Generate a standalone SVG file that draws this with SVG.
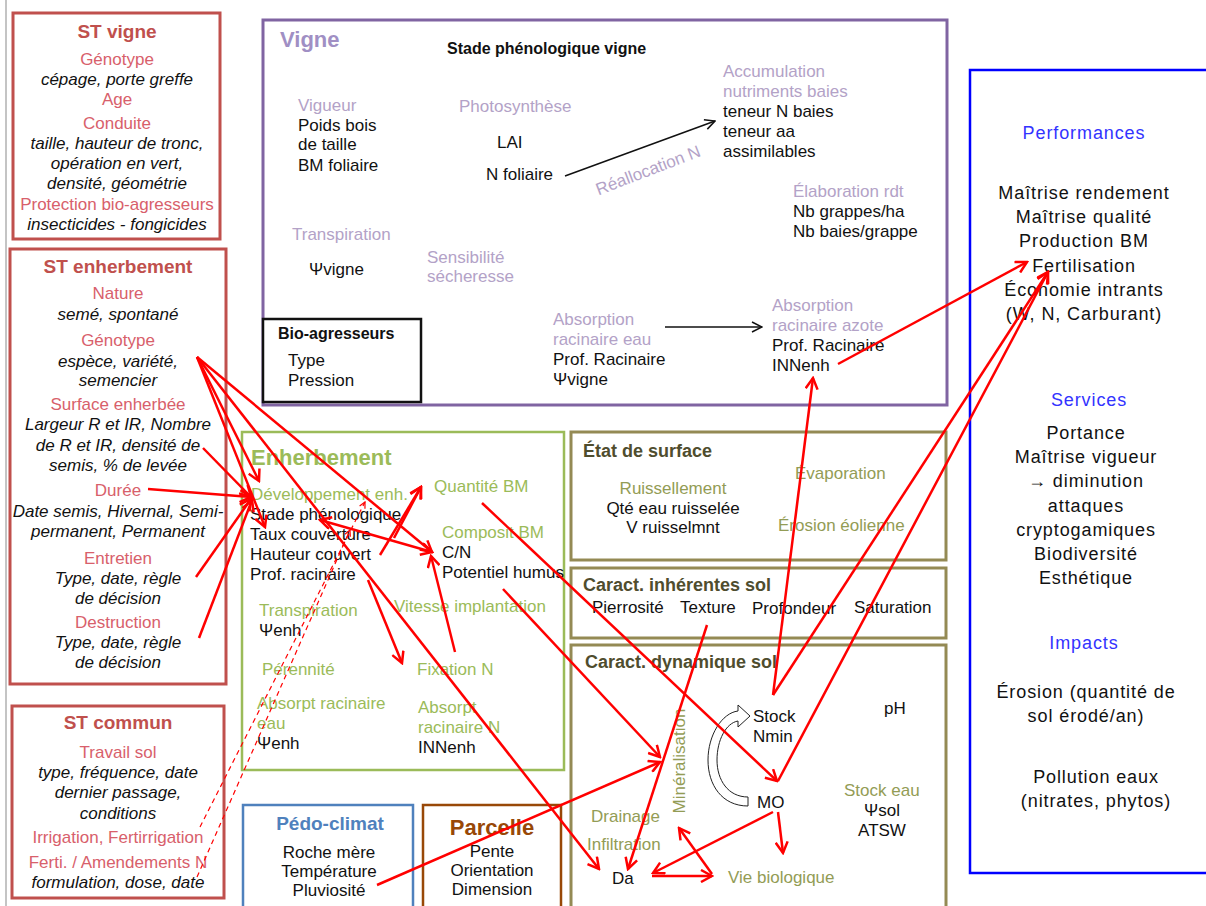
<svg xmlns="http://www.w3.org/2000/svg" width="1206" height="906" viewBox="0 0 1206 906">
<style>
text{font-family:"Liberation Sans",Arial,sans-serif;font-size:17px;fill:#111}
.c{text-anchor:middle}
.it{font-style:italic}
.pk{fill:#d8606b}
.st{fill:#c0504d;font-weight:bold;font-size:19px}
.rb{fill:none;stroke:#c0504d;stroke-width:3}
.lp{fill:#b3a2c7}
.gr{fill:#9bbb59}
.ol{fill:#939c55}
.olt{fill:#4f4d2e;font-weight:bold;font-size:18px}
.ob{fill:none;stroke:#948a54;stroke-width:3}
.bl{fill:#3333ff}
.rt{font-size:18px;letter-spacing:0.9px}
.r{fill:none;stroke:#ff0000;stroke-width:2.5;marker-end:url(#ar)}
.rd{fill:none;stroke:#ff0000;stroke-width:1.2;stroke-dasharray:5 4;marker-end:url(#ard)}
.k{fill:none;stroke:#111;stroke-width:1.5;marker-end:url(#ak)}
</style>
<defs>
<marker id="ar" viewBox="0 0 14 14" refX="12" refY="7" markerWidth="14" markerHeight="14" orient="auto" markerUnits="userSpaceOnUse"><path d="M1,1 L12,7 L1,13" fill="none" stroke="#ff0000" stroke-width="2.5"/></marker>
<marker id="ars" viewBox="0 0 14 14" refX="2" refY="7" markerWidth="14" markerHeight="14" orient="auto" markerUnits="userSpaceOnUse"><path d="M13,1 L2,7 L13,13" fill="none" stroke="#ff0000" stroke-width="2.5"/></marker>
<marker id="ard" viewBox="0 0 8 8" refX="7" refY="4" markerWidth="8" markerHeight="8" orient="auto" markerUnits="userSpaceOnUse"><path d="M1,1 L7,4 L1,7" fill="none" stroke="#ff0000" stroke-width="1.2"/></marker>
<marker id="ak" viewBox="0 0 12 12" refX="11" refY="6" markerWidth="12" markerHeight="12" orient="auto" markerUnits="userSpaceOnUse"><path d="M1,1 L11,6 L1,11" fill="none" stroke="#111" stroke-width="1.5"/></marker>
</defs>
<rect width="1206" height="906" fill="#fff"/>
<line x1="6" y1="0" x2="6" y2="906" stroke="#b0b0b0" stroke-width="1.5"/>

<g id="st-vigne">
<rect class="rb" x="13" y="13" width="207" height="226"/>
<text class="st c" x="117" y="38">ST vigne</text>
<text class="pk c" x="117" y="65">Génotype</text>
<text class="it c" x="117" y="85">cépage, porte greffe</text>
<text class="pk c" x="117" y="105">Age</text>
<text class="pk c" x="117" y="129">Conduite</text>
<text class="it c" x="117" y="149">taille, hauteur de tronc,</text>
<text class="it c" x="117" y="169">opération en vert,</text>
<text class="it c" x="117" y="189">densité, géométrie</text>
<text class="pk c" x="117" y="210">Protection bio-agresseurs</text>
<text class="it c" x="117" y="230">insecticides - fongicides</text>
</g>

<g id="st-enherbement">
<rect class="rb" x="10" y="249" width="216" height="435"/>
<text class="st c" x="118" y="273">ST enherbement</text>
<text class="pk c" x="118" y="299">Nature</text>
<text class="it c" x="118" y="320">semé, spontané</text>
<text class="pk c" x="118" y="346">Génotype</text>
<text class="it c" x="118" y="367">espèce, variété,</text>
<text class="it c" x="118" y="386">semencier</text>
<text class="pk c" x="118" y="410">Surface enherbée</text>
<text class="it c" x="118" y="430">Largeur R et IR, Nombre</text>
<text class="it c" x="118" y="451">de R et IR, densité de</text>
<text class="it c" x="118" y="471">semis, % de levée</text>
<text class="pk c" x="118" y="496">Durée</text>
<text class="it c" x="118" y="517">Date semis, Hivernal, Semi-</text>
<text class="it c" x="118" y="537">permanent, Permanent</text>
<text class="pk c" x="118" y="564">Entretien</text>
<text class="it c" x="118" y="584">Type, date, règle</text>
<text class="it c" x="118" y="604">de décision</text>
<text class="pk c" x="118" y="628">Destruction</text>
<text class="it c" x="118" y="648">Type, date, règle</text>
<text class="it c" x="118" y="668">de décision</text>
</g>

<g id="st-commun">
<rect class="rb" x="12" y="706" width="212" height="192"/>
<text class="st c" x="118" y="729">ST commun</text>
<text class="pk c" x="118" y="758">Travail sol</text>
<text class="it c" x="118" y="778">type, fréquence, date</text>
<text class="it c" x="118" y="798">dernier passage,</text>
<text class="it c" x="118" y="819">conditions</text>
<text class="pk c" x="118" y="843">Irrigation, Fertirrigation</text>
<text class="pk c" x="118" y="868">Ferti. / Amendements N</text>
<text class="it c" x="118" y="888">formulation, dose, date</text>
</g>

<g id="vigne">
<rect x="263" y="20" width="684" height="385" fill="none" stroke="#8064a2" stroke-width="3"/>
<text x="280" y="47" style="font-weight:bold;font-size:22px;fill:#a08fc4">Vigne</text>
<text x="447" y="54" style="font-weight:bold;font-size:16px">Stade phénologique  vigne</text>
<text class="lp" x="298" y="111">Vigueur</text>
<text x="298" y="131">Poids bois</text>
<text x="298" y="150">de taille</text>
<text x="298" y="171">BM foliaire</text>
<text class="lp" x="459" y="112">Photosynthèse</text>
<text x="497" y="148">LAI</text>
<text x="486" y="180">N foliaire</text>
<text class="lp" x="292" y="240">Transpiration</text>
<text x="309" y="275">Ψvigne</text>
<text class="lp" x="427" y="263">Sensibilité</text>
<text class="lp" x="427" y="282">sécheresse</text>
<text class="lp" x="648" y="176" text-anchor="middle" transform="rotate(-21 648 170)">Réallocation N</text>
<text class="lp" x="723" y="77">Accumulation</text>
<text class="lp" x="723" y="97">nutriments  baies</text>
<text x="723" y="117">teneur N baies</text>
<text x="723" y="137">teneur aa</text>
<text x="723" y="157">assimilables</text>
<text class="lp" x="793" y="197">Élaboration rdt</text>
<text x="793" y="217">Nb grappes/ha</text>
<text x="793" y="237">Nb baies/grappe</text>
<text class="lp" x="553" y="325">Absorption</text>
<text class="lp" x="553" y="345">racinaire eau</text>
<text x="553" y="365">Prof. Racinaire</text>
<text x="553" y="385">Ψvigne</text>
<text class="lp" x="772" y="311">Absorption</text>
<text class="lp" x="772" y="331">racinaire azote</text>
<text x="772" y="351">Prof. Racinaire</text>
<text x="772" y="371">INNenh</text>
</g>

<g id="bio-agresseurs">
<rect x="263" y="319" width="158" height="83" fill="#fff" stroke="#111" stroke-width="2.5"/>
<text x="278" y="339" style="font-weight:bold;font-size:16px">Bio-agresseurs</text>
<text x="288" y="366">Type</text>
<text x="288" y="386">Pression</text>
</g>

<g id="resultats">
<rect x="970" y="70" width="260" height="803" fill="none" stroke="#0000ff" stroke-width="2.5"/>
<text class="bl c rt" x="1084" y="139">Performances</text>
<text class="c rt" x="1084" y="199">Maîtrise rendement</text>
<text class="c rt" x="1084" y="223">Maîtrise qualité</text>
<text class="c rt" x="1084" y="247">Production BM</text>
<text class="c rt" x="1084" y="272">Fertilisation</text>
<text class="c rt" x="1084" y="296">Économie intrants</text>
<text class="c rt" x="1084" y="320">(W, N,  Carburant)</text>
<text class="bl c rt" x="1089" y="406">Services</text>
<text class="c rt" x="1086" y="439">Portance</text>
<text class="c rt" x="1086" y="463">Maîtrise vigueur</text>
<text class="c rt" x="1086" y="487">→ diminution</text>
<text class="c rt" x="1086" y="512">attaques</text>
<text class="c rt" x="1086" y="536">cryptogamiques</text>
<text class="c rt" x="1086" y="560">Biodiversité</text>
<text class="c rt" x="1086" y="584">Esthétique</text>
<text class="bl c rt" x="1084" y="649">Impacts</text>
<text class="c rt" x="1086" y="698">Érosion (quantité de</text>
<text class="c rt" x="1086" y="722">sol érodé/an)</text>
<text class="c rt" x="1096" y="783">Pollution eaux</text>
<text class="c rt" x="1096" y="807">(nitrates, phytos)</text>
</g>

<g id="enherbement">
<rect x="242" y="432" width="322" height="338" fill="none" stroke="#9bbb59" stroke-width="2.5"/>
<text x="251" y="465" style="font-weight:bold;font-size:22px;fill:#9bbb59">Enherbement</text>
<text class="gr" x="251" y="500">Développement enh.</text>
<text x="250" y="520">Stade phénologique</text>
<text x="250" y="540">Taux couverture</text>
<text x="250" y="560">Hauteur couvert</text>
<text x="250" y="580">Prof. racinaire</text>
<text class="gr" x="434" y="492">Quantité BM</text>
<text class="gr" x="442" y="538">Composit BM</text>
<text x="442" y="558">C/N</text>
<text x="442" y="578">Potentiel humus</text>
<text class="gr" x="259" y="616">Transpiration</text>
<text x="259" y="636">Ψenh</text>
<text class="gr" x="394" y="612">Vitesse implantation</text>
<text class="gr" x="262" y="675">Pérennité</text>
<text class="gr" x="417" y="675">Fixation N</text>
<text class="gr" x="257" y="709">Absorpt racinaire</text>
<text class="gr" x="257" y="729">eau</text>
<text x="257" y="749">Ψenh</text>
<text class="gr" x="418" y="713">Absorpt</text>
<text class="gr" x="418" y="733">racinaire N</text>
<text x="418" y="753">INNenh</text>
</g>

<g id="etat-surface">
<rect class="ob" x="571" y="432" width="375" height="128"/>
<text class="olt" x="583" y="457">État de surface</text>
<text class="ol c" x="673" y="494">Ruissellement</text>
<text class="c" x="673" y="514">Qté eau ruisselée</text>
<text class="c" x="673" y="533">V ruisselmnt</text>
<text class="ol" x="795" y="479">Évaporation</text>
<text class="ol" x="778" y="531">Érosion éolienne</text>
</g>

<g id="caract-inherentes">
<rect class="ob" x="571" y="568" width="375" height="70"/>
<text class="olt" x="583" y="591">Caract. inhérentes sol</text>
<text x="592" y="613">Pierrosité</text>
<text x="680" y="613">Texture</text>
<text x="752" y="614">Profondeur</text>
<text x="854" y="613">Saturation</text>
</g>

<g id="caract-dynamique">
<rect class="ob" x="571" y="645" width="375" height="275"/>
<text class="olt" x="585" y="668">Caract. dynamique sol</text>
<text x="753" y="722">Stock</text>
<text x="753" y="742">Nmin</text>
<text x="884" y="714">pH</text>
<text x="757" y="808">MO</text>
<text class="ol" x="844" y="796">Stock eau</text>
<text class="c" x="882" y="816">Ψsol</text>
<text class="c" x="882" y="836">ATSW</text>
<text class="ol" x="591" y="822">Drainage</text>
<text class="ol" x="587" y="850">Infiltration</text>
<text x="612" y="884">Da</text>
<text class="ol" x="728" y="883">Vie biologique</text>
<text class="ol c" x="685" y="761" transform="rotate(-90 685 761)">Minéralisation</text>
<path d="M748,806 C722,806 708,785 708,760 C708,735 722,713 738,711 L738,705 L750,716 L738,727 L738,721 C726,723 717,740 717,760 C717,780 728,797 748,797 Z" fill="#fff" stroke="#222" stroke-width="1"/>
</g>

<g id="pedo-climat">
<rect x="243" y="805" width="170" height="110" fill="none" stroke="#4f81bd" stroke-width="2.5"/>
<text class="c" x="330" y="830" style="font-weight:bold;font-size:19px;fill:#4f81bd">Pédo-climat</text>
<text class="c" x="329" y="858">Roche mère</text>
<text class="c" x="329" y="877">Température</text>
<text class="c" x="329" y="896">Pluviosité</text>
</g>

<g id="parcelle">
<rect x="423" y="805" width="138" height="110" fill="none" stroke="#984807" stroke-width="2.5"/>
<text class="c" x="492" y="835" style="font-weight:bold;font-size:22px;fill:#984807">Parcelle</text>
<text class="c" x="492" y="857">Pente</text>
<text class="c" x="492" y="876">Orientation</text>
<text class="c" x="492" y="895">Dimension</text>
</g>

<g id="connectors">
<path class="k" d="M565,176 L715,121"/>
<path class="k" d="M665,327 L762,327"/>
<path class="r" d="M197,357 L259,481"/>
<path class="r" d="M197,357 L265,527"/>
<path class="r" d="M197,357 L432,552"/>
<path class="r" d="M197,357 L599,869"/>
<path class="r" d="M203,448 L251,497"/>
<path class="r" d="M148,489 L251,497"/>
<path class="r" d="M196,577 L251,499"/>
<path class="r" d="M199,638 L252,500"/>
<path class="r" d="M320,520 L432,552" style="marker-start:url(#ars)"/>
<path class="r" d="M380,555 L421,487"/>
<path class="r" d="M394,538 L421,487"/>
<path class="r" d="M455,652 L431,556"/>
<path class="r" d="M368,580 L402,663"/>
<path class="r" d="M482,503 L777,781"/>
<path class="r" d="M503,589 L660,757"/>
<path class="r" d="M377,885 L660,762"/>
<path class="r" d="M707,625 L628,869"/>
<path class="r" d="M773,695 L813,378"/>
<path class="r" d="M773,695 L1048,272"/>
<path class="r" d="M778,781 L1048,272"/>
<path class="r" d="M838,364 L1027,262"/>
<path class="r" d="M773,812 L653,873"/>
<path class="r" d="M778,812 L783,853"/>
<path class="r" d="M652,876 L712,876"/>
<path class="r" d="M712,874 L679,828"/>
<path class="rd" d="M200,827 L365,502"/>
<path class="rd" d="M197,877 L350,530"/>
</g>
</svg>
